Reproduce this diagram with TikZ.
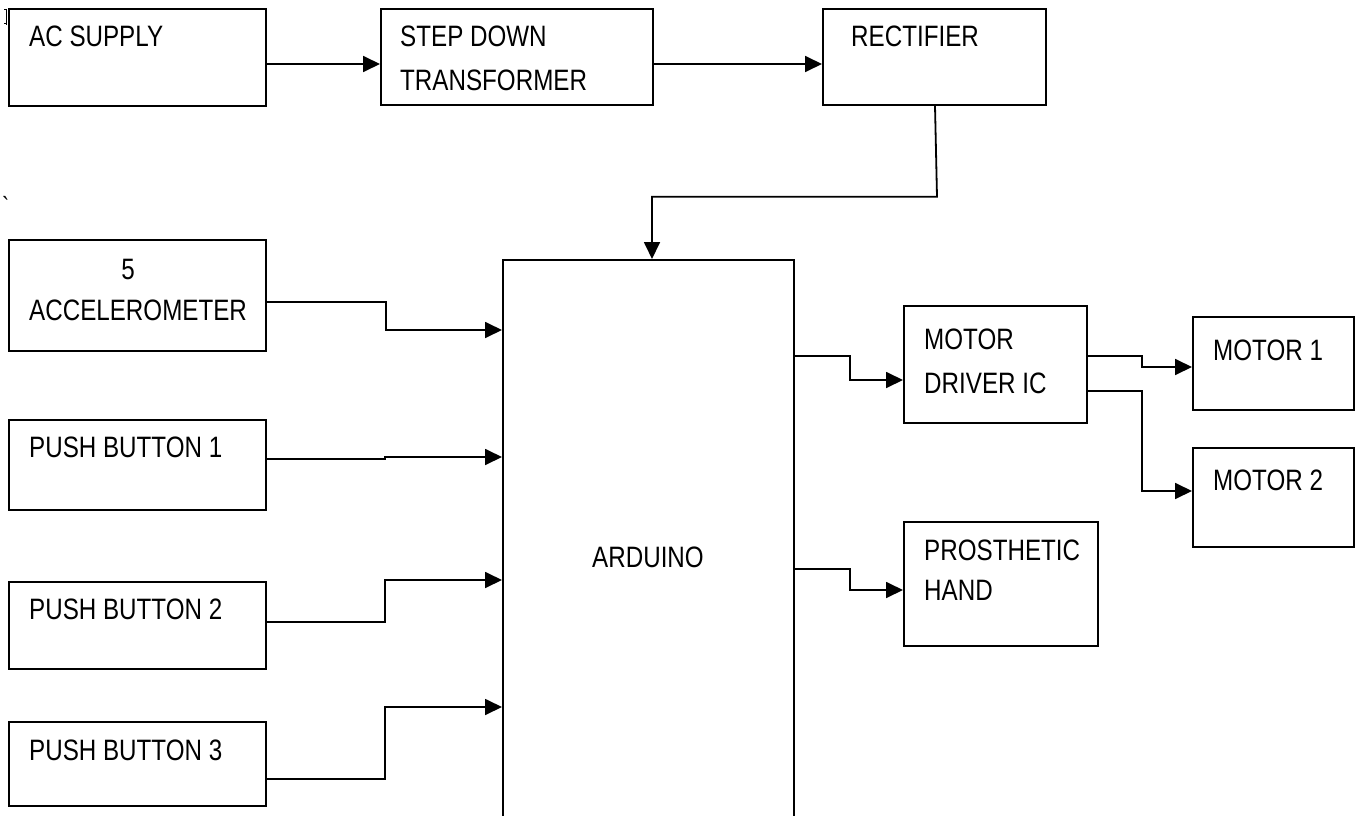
\documentclass[tikz,border=0pt]{standalone}
\usepackage{fontspec}
\setmainfont{Liberation Sans}[FakeStretch=0.82]
\usetikzlibrary{arrows.meta,calc}
\begin{document}
\begin{tikzpicture}[x=1pt,y=-1pt,
  blk/.style={draw,line width=1.8pt,inner sep=0pt,anchor=north west},
  txt/.style={inner sep=0pt,anchor=base west,font=\fontsize{29.5pt}{35pt}\selectfont},
  arr/.style={line width=1.8pt,-{Triangle[length=17pt,width=16pt]}}]
\useasboundingbox (0,0) rectangle (1357,816);
\fill[white] (0,0) rectangle (1357,816);
\clip (0,0) rectangle (1357,816);
% boxes
\node[blk,minimum width=257pt,minimum height=97pt] (ac) at (8,8) {};
\node[blk,minimum width=272pt,minimum height=96pt] (step) at (380,8) {};
\node[blk,minimum width=223pt,minimum height=96pt] (rect) at (822,8) {};
\node[blk,minimum width=257pt,minimum height=111pt] (acc) at (8,239) {};
\node[blk,minimum width=257pt,minimum height=90pt] (pb1) at (8,419) {};
\node[blk,minimum width=257pt,minimum height=87pt] (pb2) at (8,581) {};
\node[blk,minimum width=257pt,minimum height=84pt] (pb3) at (8,721) {};
\node[blk,minimum width=291pt,minimum height=580pt] (ard) at (502,259) {};
\node[blk,minimum width=183pt,minimum height=117pt] (md) at (903,305) {};
\node[blk,minimum width=161pt,minimum height=93pt] (m1) at (1192,316) {};
\node[blk,minimum width=161pt,minimum height=99pt] (m2) at (1192,447) {};
\node[blk,minimum width=194pt,minimum height=124pt] (ph) at (903,521) {};
% texts
\node[txt] (acT) at (29,47) {AC SUPPLY};
\node[txt] (stepT1) at (400,47) {STEP DOWN};
\node[txt] (stepT2) at (400,90) {TRANSFORMER};
\node[txt] (rectT) at (851,47) {RECTIFIER};
\node[txt,anchor=base] (accT1) at (128,279) {5};
\node[txt] (accT2) at (29,320) {ACCELEROMETER};
\node[txt] (pb1T) at (29,457) {PUSH BUTTON 1};
\node[txt] (pb2T) at (29,619) {PUSH BUTTON 2};
\node[txt] (pb3T) at (29,760) {PUSH BUTTON 3};
\node[txt,anchor=base] (ardT) at (648,567) {ARDUINO};
\node[txt] (mdT1) at (924,349) {MOTOR};
\node[txt] (mdT2) at (924,393) {DRIVER IC};
\node[txt] (m1T) at (1213,360) {MOTOR 1};
\node[txt] (m2T) at (1213,490) {MOTOR 2};
\node[txt] (phT1) at (924,560) {PROSTHETIC};
\node[txt] (phT2) at (924,600) {HAND};
\node[txt,font=\fontsize{26pt}{30pt}\selectfont] (tick) at (2,215) {\textasciigrave};
\draw[line width=0.9pt] (4,9) -- (7,9) (6,9) -- (6,25) (4,23) -- (6,23);
% connectors
\draw[arr] ($(ac.north east)+(0,56)$) -- ($(step.north west)+(0,56)$);
\draw[arr] ($(step.north east)+(0,56)$) -- ($(rect.north west)+(0,56)$);
\draw[arr] ($(rect.south west)+(113,0)$) -- ++(2,91) -| ($(ard.north west)+(150,0)$);
\draw[arr] ($(acc.north east)+(0,63)$) -- ++(119,0) |- ($(ard.north west)+(0,71)$);
\draw[arr] ($(pb1.north east)+(0,40)$) -- ++(118,0) |- ($(ard.north west)+(0,198)$);
\draw[arr] ($(pb2.north east)+(0,41)$) -- ++(118,0) |- ($(ard.north west)+(0,321)$);
\draw[arr] ($(pb3.north east)+(0,58)$) -- ++(118,0) |- ($(ard.north west)+(0,448)$);
\draw[arr] ($(ard.north east)+(0,97)$) -- ++(55,0) |- ($(md.north west)+(0,75)$);
\draw[arr] ($(md.north east)+(0,51)$) -- ++(54,0) |- ($(m1.north west)+(0,51)$);
\draw[arr] ($(md.north east)+(0,86)$) -- ++(54,0) |- ($(m2.north west)+(0,44)$);
\draw[arr] ($(ard.north east)+(0,310)$) -- ++(55,0) |- ($(ph.north west)+(0,69)$);
\end{tikzpicture}
\end{document}
